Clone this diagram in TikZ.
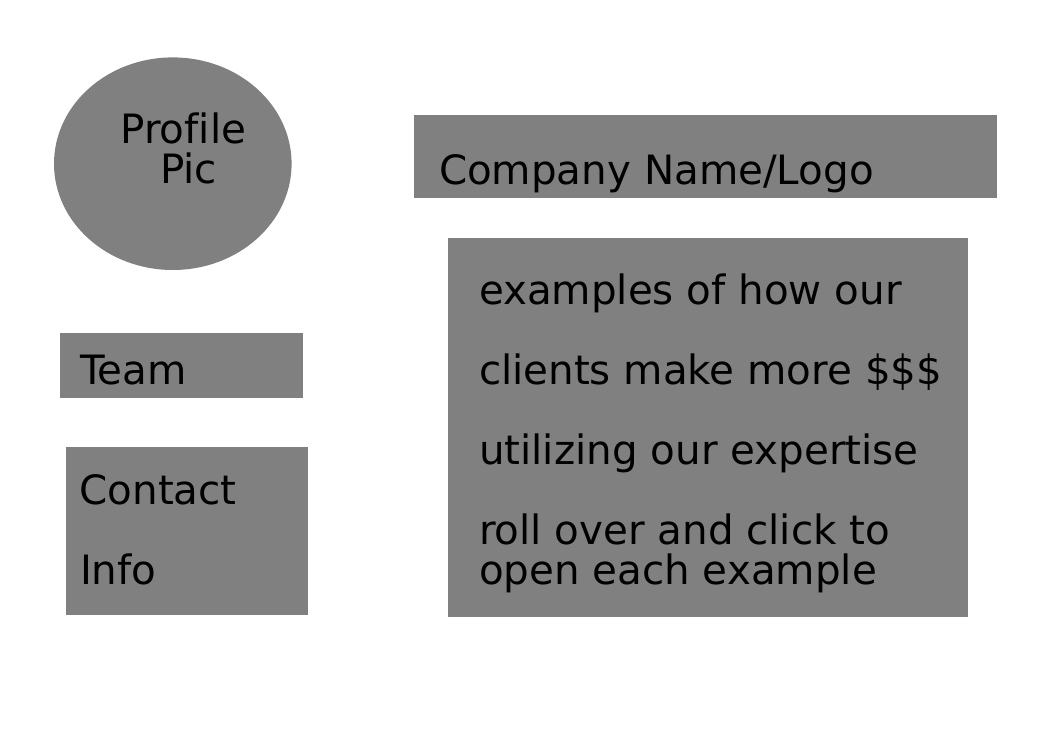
\documentclass[tikz,border=0pt]{standalone}
\usepackage{fontspec}
\setmainfont{DejaVu Sans}[Ligatures=NoCommon]
\usetikzlibrary{shapes.geometric}
\definecolor{panel}{HTML}{808080}
\begin{document}
\begin{tikzpicture}[x=1pt,y=-1pt,
  panelbox/.style={fill=panel, draw=none, rectangle, inner sep=0pt},
  label/.style={anchor=base west, inner sep=0pt, outer sep=0pt, text=black,
    font=\fontsize{40.4}{40.4}\selectfont}]
  \useasboundingbox (0,0) rectangle (1052,744);

  % profile picture placeholder
  \node[panelbox, ellipse, minimum width=237.6pt, minimum height=212.6pt]
    (pic) at (172.8,163.7) {};
  \node[label] (pictop) at (120.5,143) {Profile};
  \node[label] (picbot) at (160,183) {Pic};

  % header bar
  \node[panelbox, minimum width=582.5pt, minimum height=83pt]
    (company) at (705.25,156.5) {};
  \node[label] (companytxt) at (439,184) {Company Name/Logo};

  % main content panel
  \node[panelbox, minimum width=520.5pt, minimum height=379pt]
    (examples) at (707.75,427.5) {};
  \node[label] (ex1) at (479,304) {examples of how our};
  \node[label] (ex2) at (479,384) {clients make more \$\$\$};
  \node[label] (ex3) at (479,464) {utilizing our expertise};
  \node[label] (ex4) at (479,544) {roll over and click to};
  \node[label] (ex5) at (479,584) {open each example};

  % side navigation
  \node[panelbox, minimum width=242.5pt, minimum height=65pt]
    (team) at (181.25,365.5) {};
  \node[label] (teamtxt) at (80,384) {Team};

  \node[panelbox, minimum width=242pt, minimum height=168pt]
    (contact) at (187,531) {};
  \node[label] (contact1) at (79.5,504) {Contact};
  \node[label] (contact2) at (80,584) {Info};
\end{tikzpicture}
\end{document}
